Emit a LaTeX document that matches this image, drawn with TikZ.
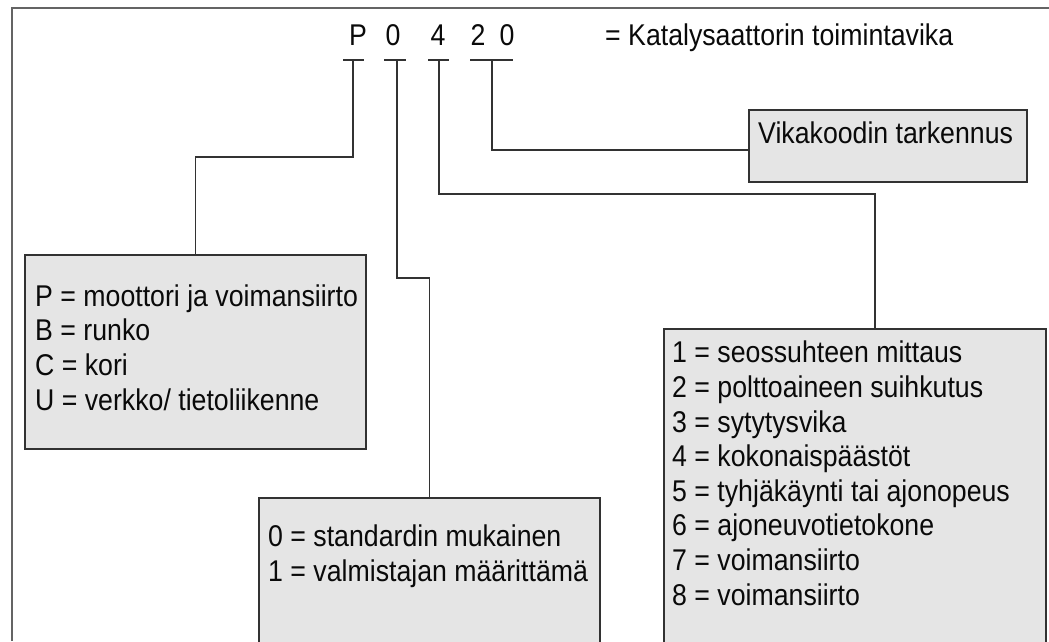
\documentclass[tikz,border=0pt]{standalone}
\usepackage{fontspec}
\setmainfont[FakeStretch=0.89]{Liberation Sans}
\definecolor{boxfill}{RGB}{229,229,229}
\definecolor{linec}{RGB}{50,50,50}
\definecolor{framec}{RGB}{100,100,100}
\definecolor{txt}{RGB}{10,10,10}
\tikzset{
  codebox/.style={draw=linec, line width=1.6pt, fill=boxfill, anchor=north west, inner sep=0pt},
  boxtext/.style={anchor=base west, align=left, inner sep=0pt, text=txt},
  conn/.style={draw=linec, line width=1.6pt},
  digit/.style={anchor=base, inner sep=0pt, text=txt}
}
\begin{document}
\begin{tikzpicture}[x=1pt,y=-1pt, every node/.style={font=\fontsize{30}{34.6}\selectfont}]
\useasboundingbox (0,0) rectangle (1049,641);
% frame
\draw[framec, line width=2.5pt] (12,641) -- (12,8) -- (1049,8);
% code letters
\node[digit] (cP) at (358,45) {P};
\node[digit] (c0) at (393,45) {0};
\node[digit] (c4) at (438,45) {4};
\node[digit] (c2) at (478,45) {2};
\node[digit] (c00) at (507,45) {0};
\node[boxtext] (title) at (605,45) {= Katalysaattorin toimintavika};
% underline ends
\coordinate (uPa) at (343,60); \coordinate (uPb) at (364,60);
\coordinate (u0a) at (384,60); \coordinate (u0b) at (406,60);
\coordinate (u4a) at (428,60); \coordinate (u4b) at (449,60);
\coordinate (u2a) at (470,60); \coordinate (u2b) at (513,60);
\coordinate (tP) at (353,60);
\coordinate (t0) at (397,60);
\coordinate (t4) at (439,60);
\coordinate (t2) at (492,60);
\draw[conn] (uPa) -- (uPb);
\draw[conn] (u0a) -- (u0b);
\draw[conn] (u4a) -- (u4b);
\draw[conn] (u2a) -- (u2b);
% boxes
\node[codebox, minimum width=341pt, minimum height=194pt] (b1) at (24,254) {};
\node[codebox, minimum width=341pt, minimum height=200pt] (b2) at (258,497) {};
\node[codebox, minimum width=382pt, minimum height=400pt] (b3) at (663,328) {};
\node[codebox, minimum width=278pt, minimum height=72pt] (b4) at (748,109) {};
% box texts (anchor = baseline of the last line)
\node[boxtext] (t1) at (35,410) {P = moottori ja voimansiirto\\B = runko\\C = kori\\U = verkko/ tietoliikenne};
\node[boxtext] (tx2) at (268,581) {0 = standardin mukainen\\1 = valmistajan määrittämä};
\node[boxtext] (tx3) at (672,605) {1 = seossuhteen mittaus\\2 = polttoaineen suihkutus\\3 = sytytysvika\\4 = kokonaispäästöt\\5 = tyhjäkäynti tai ajonopeus\\6 = ajoneuvotietokone\\7 = voimansiirto\\8 = voimansiirto};
\node[boxtext] (tx4) at (758,143) {Vikakoodin tarkennus};
% connectors
\draw[conn] (tP) -- ++(0,97) -| (b1.north);
\draw[conn] (t0) -- ++(0,218) -| (b2.north);
\draw[conn] (t4) -- ++(0,134) -| ([xshift=212pt]b3.north west);
\draw[conn] (t2) |- ([yshift=-41pt]b4.north west);
\end{tikzpicture}
\end{document}
